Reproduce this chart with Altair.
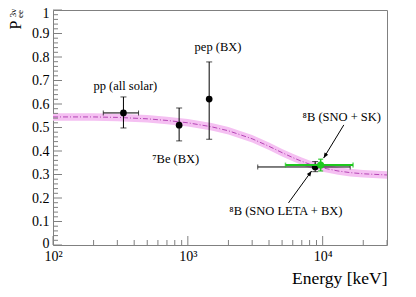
import altair as alt
import pandas as pd

# ---- data ----
curve_E = [100, 200, 300, 500, 700, 1000, 1500, 2000, 3000, 4000, 5000, 6000, 7000, 8000, 10000, 13000, 16000, 20000, 30000]
curve_P = [0.545, 0.545, 0.543, 0.537, 0.530, 0.520, 0.503, 0.486, 0.452, 0.420, 0.393, 0.372, 0.356, 0.344, 0.328, 0.315, 0.308, 0.303, 0.298]
band_half = 0.016

pt_name = ["pp", "7Be", "pep", "8B LETA"]
pt_E = [333, 862, 1440, 8800]
pt_P = [0.562, 0.510, 0.621, 0.332]
pt_ylo = [0.498, 0.443, 0.450, 0.312]
pt_yhi = [0.630, 0.583, 0.779, 0.355]
pt_xlo = [236, 862, 1440, 3300]
pt_xhi = [431, 862, 1440, 16000]

g_E = [9660]
g_P = [0.340]
g_ylo = [0.315]
g_yhi = [0.365]
g_xlo = [5300]
g_xhi = [16800]

lab_text = ["pp (all solar)", "pep (BX)", "\u2077Be (BX)", "\u2078B (SNO + SK)", "\u2078B (SNO LETA + BX)"]
lab_E = [344, 1675, 813, 13860, 5340]
lab_P = [0.677, 0.843, 0.366, 0.545, 0.145]

arr_E1 = [14350, 5575]
arr_P1 = [0.511, 0.179]
arr_E2 = [10170, 8280]
arr_P2 = [0.370, 0.315]
arr_angle = [211, 36]

y_major = [round(0.1 * i, 1) for i in range(11)]
y_minor = [round(0.02 * i, 2) for i in range(51) if i % 5 != 0]
x_major = [100, 1000, 10000]
x_minor = [200, 300, 400, 500, 600, 700, 800, 900, 2000, 3000, 4000, 5000, 6000, 7000, 8000, 9000, 20000, 30000]

SERIF = "Liberation Serif"
W, H = 334, 235

curve = pd.DataFrame({"E": curve_E, "P": curve_P})
curve["lo"] = curve["P"] - band_half
curve["hi"] = curve["P"] + band_half
pts = pd.DataFrame({"name": pt_name, "E": pt_E, "P": pt_P, "ylo": pt_ylo, "yhi": pt_yhi, "xlo": pt_xlo, "xhi": pt_xhi})
gpt = pd.DataFrame({"E": g_E, "P": g_P, "ylo": g_ylo, "yhi": g_yhi, "xlo": g_xlo, "xhi": g_xhi})
labs = pd.DataFrame({"t": lab_text, "E": lab_E, "P": lab_P})
arrs = pd.DataFrame({"E1": arr_E1, "P1": arr_P1, "E2": arr_E2, "P2": arr_P2, "a": arr_angle})

xs = alt.Scale(type="log", domain=[100, 30000], nice=False)
ys = alt.Scale(domain=[0, 1], nice=False)

xaxis = alt.Axis(values=x_major, ticks=False, domain=False, grid=False,
                 labelExpr="datum.value == 100 ? '10\u00b2' : datum.value == 1000 ? '10\u00b3' : '10\u2074'",
                 labelFont=SERIF, labelFontSize=14, labelFontWeight="normal", labelColor="black",
                 labelPadding=4, labelOverlap=False, labelFlush=False,
                 title="Energy [keV]", titleFont=SERIF, titleFontSize=17.5, titleFontWeight="normal",
                 titleColor="black", titleAnchor="end", titlePadding=6)
yaxis = alt.Axis(values=y_major, ticks=False, domain=False, grid=False, format="~g",
                 labelFont=SERIF, labelFontSize=14, labelFontWeight="normal", labelColor="black", labelPadding=4,
                 labelOverlap=False, labelFlush=False, labelBaseline="middle",
                 labelOffset={"expr": "datum.value == 1 ? 3.5 : (datum.value == 0 ? -1.5 : 0)"},
                 title=None)


def X(f):
    return alt.X(f"{f}:Q", scale=xs, axis=xaxis)


def Y(f):
    return alt.Y(f"{f}:Q", scale=ys, axis=yaxis)


band = alt.Chart(curve).mark_area(color="#f5c0f2", opacity=1, clip=True).encode(
    x=X("E"), y=Y("lo"), y2="hi:Q")
cline = alt.Chart(curve).mark_line(color="#b545b5", strokeWidth=1, strokeDash=[5, 2, 1, 2], clip=True).encode(
    x=X("E"), y=Y("P"))

# ticks (inward, left and bottom)
tick_col = "#808080"
ymaj = alt.Chart(pd.DataFrame({"v": y_major})).mark_rule(color=tick_col).encode(
    y=Y("v"), x=alt.value(0), x2=alt.value(9))
ymin = alt.Chart(pd.DataFrame({"v": y_minor})).mark_rule(color=tick_col).encode(
    y=Y("v"), x=alt.value(0), x2=alt.value(5))
xmaj = alt.Chart(pd.DataFrame({"v": x_major})).mark_rule(color=tick_col).encode(
    x=X("v"), y=alt.value(H), y2=alt.value(H - 9))
xmin = alt.Chart(pd.DataFrame({"v": x_minor})).mark_rule(color=tick_col).encode(
    x=X("v"), y=alt.value(H), y2=alt.value(H - 5))

# black points
bx = alt.Chart(pts).mark_rule(color="black", strokeWidth=1).encode(x=X("xlo"), x2="xhi:Q", y=Y("P"))
by = alt.Chart(pts).mark_rule(color="black", strokeWidth=1).encode(x=X("E"), y=Y("ylo"), y2="yhi:Q")
bcap_lo = alt.Chart(pts).mark_tick(color="black", orient="horizontal", size=6, thickness=1).encode(x=X("E"), y=Y("ylo"))
bcap_hi = alt.Chart(pts).mark_tick(color="black", orient="horizontal", size=6, thickness=1).encode(x=X("E"), y=Y("yhi"))
hx_pts = pts[pts["xlo"] != pts["xhi"]]
bcap_xl = alt.Chart(hx_pts).mark_tick(color="black", orient="vertical", size=5, thickness=1).encode(x=X("xlo"), y=Y("P"))
bcap_xh = alt.Chart(hx_pts).mark_tick(color="black", orient="vertical", size=5, thickness=1).encode(x=X("xhi"), y=Y("P"))
bdot = alt.Chart(pts).mark_circle(color="black", size=45, opacity=1).encode(x=X("E"), y=Y("P"))

# green point
GREEN = "#1ec81e"
gx = alt.Chart(gpt).mark_rule(color=GREEN, strokeWidth=2).encode(x=X("xlo"), x2="xhi:Q", y=Y("P"))
gy = alt.Chart(gpt).mark_rule(color=GREEN, strokeWidth=1.5).encode(x=X("E"), y=Y("ylo"), y2="yhi:Q")
gcap_lo = alt.Chart(gpt).mark_tick(color=GREEN, orient="horizontal", size=5, thickness=1.5).encode(x=X("E"), y=Y("ylo"))
gcap_hi = alt.Chart(gpt).mark_tick(color=GREEN, orient="horizontal", size=5, thickness=1.5).encode(x=X("E"), y=Y("yhi"))
gcap_xl = alt.Chart(gpt).mark_tick(color=GREEN, orient="vertical", size=5, thickness=1.5).encode(x=X("xlo"), y=Y("P"))
gcap_xh = alt.Chart(gpt).mark_tick(color=GREEN, orient="vertical", size=5, thickness=1.5).encode(x=X("xhi"), y=Y("P"))
gdot = alt.Chart(gpt).mark_circle(color=GREEN, size=50, opacity=1).encode(x=X("E"), y=Y("P"))

# labels and arrows
labels = alt.Chart(labs).mark_text(font=SERIF, fontSize=12.5, fontWeight="normal", color="black",
                                   align="center", baseline="middle").encode(
    x=X("E"), y=Y("P"), text="t:N")
alines = alt.Chart(arrs).mark_rule(color="black", strokeWidth=1).encode(
    x=X("E1"), y=Y("P1"), x2="E2:Q", y2="P2:Q")
aheads = alt.Chart(arrs).mark_point(shape="M0,0L-0.4,1L0.4,1Z", filled=True, color="black", size=110, opacity=1).encode(
    x=X("E2"), y=Y("P2"), angle=alt.Angle("a:Q", scale=None))

# y title P_ee^{3nu}
yt_text = ["P", "3\u03bd", "ee"]
yt_px = [-37, -40, -33]
yt_py = [15, 3, 4]
yt_fs = [16, 9, 9]
ytits = []
for t, px, py, fs in zip(yt_text, yt_px, yt_py, yt_fs):
    ytits.append(alt.Chart(pd.DataFrame({"t": [t]})).mark_text(
        font=SERIF, fontSize=fs, fontWeight="normal", color="black", angle=270,
        align="center", baseline="middle").encode(x=alt.value(px), y=alt.value(py), text="t:N"))

chart = alt.layer(
    band, cline, ymaj, ymin, xmaj, xmin,
    bx, by, bcap_lo, bcap_hi, bcap_xl, bcap_xh, bdot,
    gx, gy, gcap_lo, gcap_hi, gcap_xl, gcap_xh, gdot,
    alines, aheads, labels, *ytits
).properties(
    width=W, height=H, autosize="none",
    padding={"left": 45, "top": 2, "right": 14, "bottom": 52},
    background="white"
).configure_view(stroke="#808080", strokeWidth=1)

chart.save("out.html", embed_options={"renderer": "svg", "actions": False})
